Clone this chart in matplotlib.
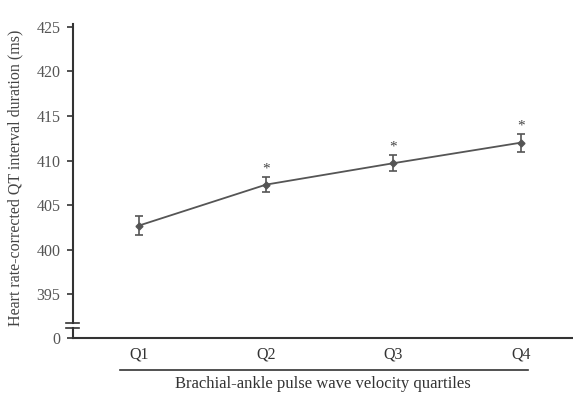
import matplotlib
matplotlib.use("Agg")
import matplotlib.pyplot as plt

# data
quartiles = ["Q1", "Q2", "Q3", "Q4"]
qtc_mean = [402.7, 407.3, 409.7, 412.0]
qtc_err = [1.05, 0.85, 0.9, 1.0]
significant = [False, True, True, True]
yticks = [395, 400, 405, 410, 415, 420, 425]

# axis break: the "0" sits just below 395
zero_pos = 390.1
break_hi, break_lo = 391.8, 391.2

plt.rcParams["font.family"] = ["Liberation Serif", "DejaVu Serif"]

fig = plt.figure(figsize=(5.73, 3.94), dpi=100)
ax = fig.add_axes([0.127, 0.142, 0.873, 0.797])

x = list(range(1, len(quartiles) + 1))
ax.errorbar(x, qtc_mean, yerr=qtc_err, color="#555555", lw=1.3, marker="D",
            ms=3.5, capsize=3, elinewidth=1.2, capthick=1.2)
for xi, m, e, s in zip(x, qtc_mean, qtc_err, significant):
    if s:
        ax.text(xi, m + e + 0.9, "*", ha="center", va="center", fontsize=11, color="#444444")

ax.set_xlim(0.482, 4.41)
ax.set_ylim(zero_pos, 425.3)
ax.set_yticks([zero_pos] + yticks)
ax.set_yticklabels(["0"] + [str(t) for t in yticks], fontsize=11.5, color="#555555")
ax.set_xticks(x)
ax.set_xticklabels(quartiles, fontsize=11.5, color="#333333")
ax.tick_params(axis="x", length=0, pad=6)
ax.tick_params(axis="y", length=4, width=1.2, color="#333333", pad=5)

for sp in ["top", "right", "left"]:
    ax.spines[sp].set_visible(False)
ax.spines["bottom"].set_linewidth(1.5)
ax.spines["bottom"].set_color("#333333")

# broken y axis
tr = ax.get_yaxis_transform()
ax.plot([0, 0], [break_hi, 425.3], transform=tr, color="#333333", lw=1.5, clip_on=False)
ax.plot([0, 0], [zero_pos, break_lo], transform=tr, color="#333333", lw=1.5, clip_on=False)
for yb in (break_hi, break_lo):
    ax.plot([-0.013, 0.013], [yb, yb], transform=tr, color="#333333", lw=1.2, clip_on=False)

# underline and label below the quartiles
fig.add_artist(plt.Line2D([120 / 573, 528 / 573], [1 - 370 / 394] * 2,
                          color="#333333", lw=1.2))
fig.text(323 / 573, 1 - 384 / 394, "Brachial-ankle pulse wave velocity quartiles",
         ha="center", va="center", fontsize=12, color="#333333")

ax.set_ylabel("Heart rate-corrected QT interval duration (ms)", fontsize=11.5,
              color="#444444")
ax.yaxis.set_label_coords(-0.098, 0.51)

fig.savefig("out.png", dpi=100)
